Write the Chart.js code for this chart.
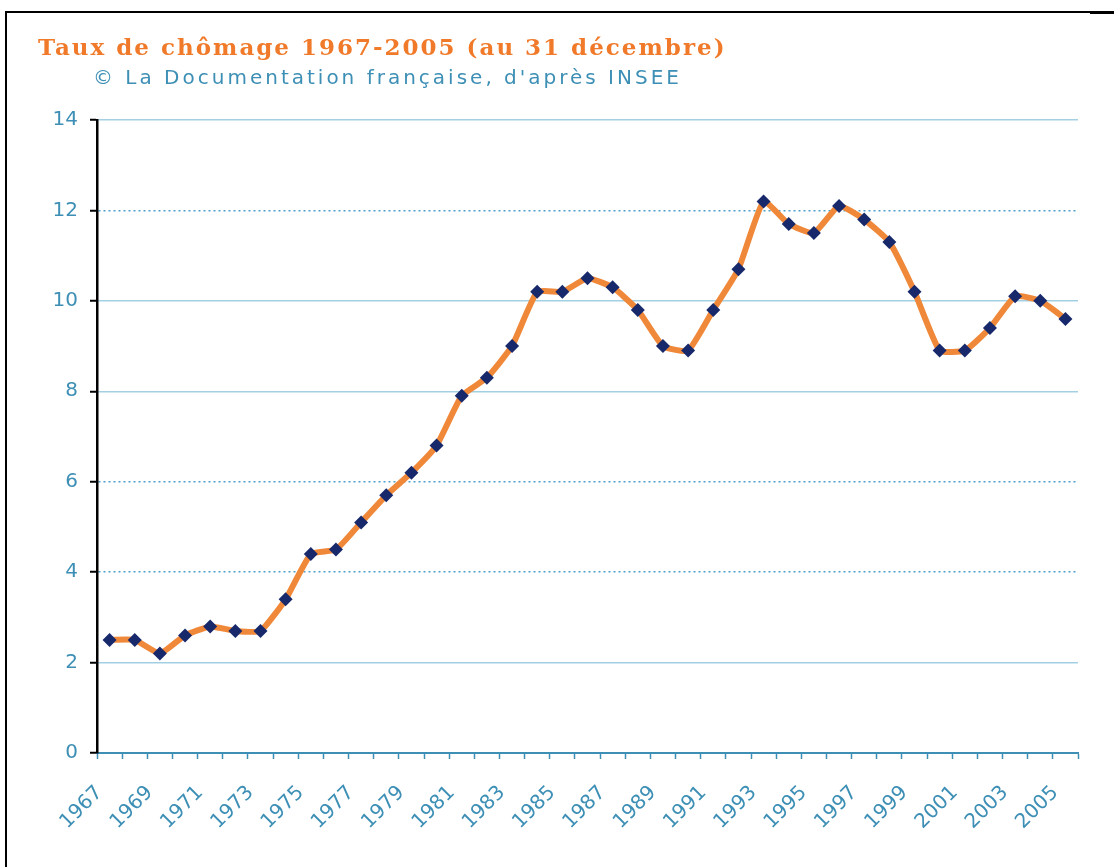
<!DOCTYPE html>
<html>
<head>
<meta charset="utf-8">
<script src="https://cdn.jsdelivr.net/npm/chart.js@4/dist/chart.umd.min.js"></script>
<style>
  body { margin: 0; background: #fff; }
  #cadre { position: absolute; left: 5px; top: 11px; width: 1109px; height: 856px;
           border-top: 2px solid #000; border-left: 2px solid #000; }
  #coin { position: absolute; left: 1090px; top: 11px; width: 24px; height: 3px; background: #000; }
  #titre { position: absolute; left: 38px; top: 33px; font-family: "DejaVu Serif", serif;
           font-weight: bold; font-size: 23px; color: #f07a2a; letter-spacing: 2px; white-space: nowrap; }
  #source { position: absolute; left: 93px; top: 65px; font-family: "DejaVu Sans", sans-serif;
            font-size: 20px; color: #3d8fb5; letter-spacing: 3px; white-space: nowrap; }
  #graph { position: absolute; left: 0; top: 0; }
</style>
</head>
<body>
<div id="cadre"></div>
<div id="coin"></div>
<canvas id="graph" width="1114" height="867"></canvas>
<div id="titre">Taux de chômage 1967-2005 (au 31 décembre)</div>
<div id="source">© La Documentation française, d'après INSEE</div>
<script>
// années (catégories)
var annees = ["1967","1968","1969","1970","1971","1972","1973","1974","1975","1976",
              "1977","1978","1979","1980","1981","1982","1983","1984","1985","1986",
              "1987","1988","1989","1990","1991","1992","1993","1994","1995","1996",
              "1997","1998","1999","2000","2001","2002","2003","2004","2005"];

// taux de chômage en %
var taux = [2.5, 2.5, 2.2, 2.6, 2.8, 2.7, 2.7, 3.4, 4.4, 4.5,
            5.1, 5.7, 6.2, 6.8, 7.9, 8.3, 9.0, 10.2, 10.2, 10.5,
            10.3, 9.8, 9.0, 8.9, 9.8, 10.7, 12.2, 11.7, 11.5, 12.1,
            11.8, 11.3, 10.2, 8.9, 8.9, 9.4, 10.1, 10.0, 9.6];

// graduations de l'axe vertical
var yMin = 0;
var yMax = 14;
var yPas = 2;
var lignesPointillees = [4, 6, 12];

var bleu = "#3d8fb5";

var ctx = document.getElementById("graph").getContext("2d");

var myChart = new Chart(ctx, {
  type: "line",
  data: {
    labels: annees,
    datasets: [{
      label: "Taux de chômage",
      data: taux,
      borderColor: "#f0883a",
      borderWidth: 6,
      tension: 0.15,
      pointStyle: "rectRot",
      pointRadius: 7,
      pointBackgroundColor: "#17296b",
      pointBorderWidth: 0
    }]
  },
  options: {
    responsive: false,
    animation: false,
    layout: {
      padding: { left: 37, right: 36, top: 120, bottom: 24 }
    },
    plugins: {
      legend: { display: false },
      tooltip: { enabled: false }
    },
    scales: {
      x: {
        offset: true,
        afterFit: function(s) { s.height = 90; },
        grid: {
          offset: true,
          drawOnChartArea: false,
          drawTicks: true,
          tickLength: 6,
          tickWidth: 1.5,
          tickColor: bleu
        },
        border: { color: bleu, width: 2 },
        ticks: {
          autoSkip: false,
          minRotation: 45,
          maxRotation: 45,
          labelOffset: -10,
          padding: 22,
          color: bleu,
          font: { family: "DejaVu Sans", size: 20 },
          callback: function(val, i) {
            return (i % 2 == 0) ? annees[i] : "";
          }
        }
      },
      y: {
        min: yMin,
        max: yMax,
        afterFit: function(s) { s.width = 60; },
        grid: {
          color: function(c) {
            if (c.tick && lignesPointillees.indexOf(c.tick.value) >= 0) return "#4f9fcb";
            return "#a3cfe3";
          },
          lineWidth: 1.5,
          tickLength: 7,
          tickWidth: 2,
          tickColor: "#000"
        },
        border: {
          color: "#000",
          width: 2.5,
          dash: function(c) {
            if (c.tick && lignesPointillees.indexOf(c.tick.value) >= 0) return [2, 3];
            return [];
          }
        },
        ticks: {
          stepSize: yPas,
          padding: 12,
          color: bleu,
          font: { family: "DejaVu Sans", size: 20 }
        }
      }
    }
  }
});
</script>
</body>
</html>
